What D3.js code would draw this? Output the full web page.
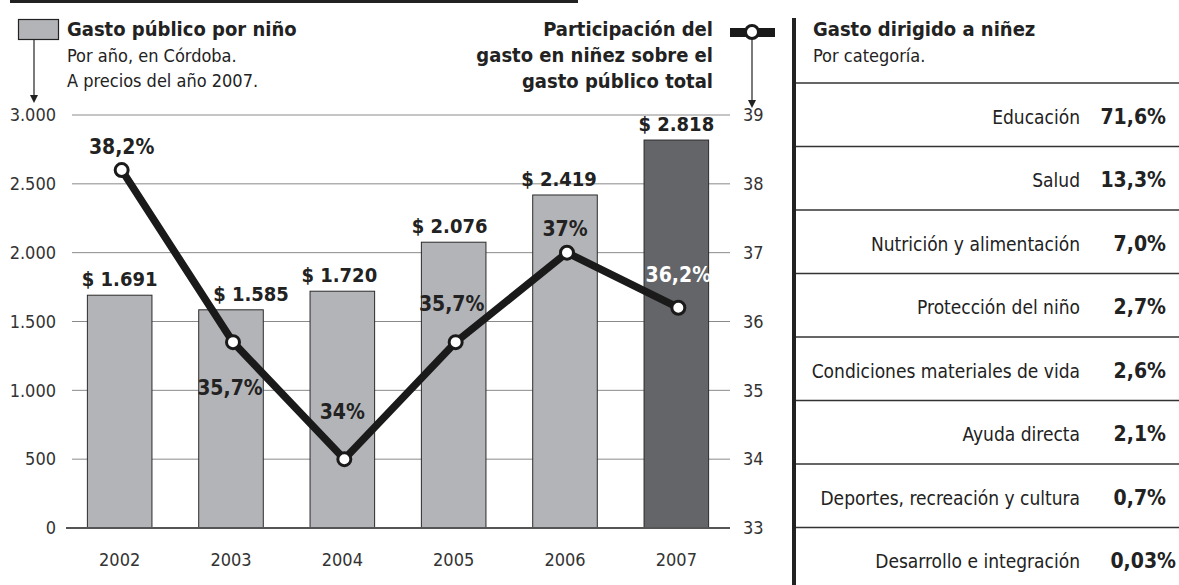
<!DOCTYPE html>
<html>
<head>
<meta charset="utf-8">
<script src="https://d3js.org/d3.v7.min.js"></script>
<style>
  body { margin: 0; background: #fff; }
  svg, svg text { font-family: "DejaVu Sans Condensed", "Liberation Sans Narrow", sans-serif; font-stretch: condensed; }
</style>
</head>
<body>
<script>
  const years = ['2002', '2003', '2004', '2005', '2006', '2007']
  const gasto = [1691, 1585, 1720, 2076, 2419, 2818]
  const participacion = [38.2, 35.7, 34, 35.7, 37, 36.2]
  const partLabels = ['38,2%', '35,7%', '34%', '35,7%', '37%', '36,2%']
  const leftTicks = [0, 500, 1000, 1500, 2000, 2500, 3000]
  const rightTicks = [33, 34, 35, 36, 37, 38, 39]
  const categorias = ['Educación', 'Salud', 'Nutrición y alimentación', 'Protección del niño',
    'Condiciones materiales de vida', 'Ayuda directa', 'Deportes, recreación y cultura', 'Desarrollo e integración']
  const catValores = ['71,6%', '13,3%', '7,0%', '2,7%', '2,6%', '2,1%', '0,7%', '0,03%']

  // label nudges (px)
  const barDx = [0, 20, -3, -4, -6, 0]
  const pctDx = [0, -3, -2, -4, -2, 0]
  const pctDy = [-16, 53, -40, -31, -17, -26]

  const width = 1179
  const height = 585
  const ink = '#222'
  const svg = d3.select('body').append('svg').attr('width', width).attr('height', height)

  const es = d3.formatLocale({ decimal: ',', thousands: '.', grouping: [3], currency: ['$ ', ''] })
  const fmtNum = es.format(',')

  const x = d3.scaleBand().domain(years).range([64, 732]).paddingInner(0.42).paddingOuter(0.21)
  const y = d3.scaleLinear().domain([0, 3000]).range([528, 115])
  const y2 = d3.scaleLinear().domain([33, 39]).range([528, 115])

  // top rule
  svg.append('rect').attr('x', 10).attr('y', 0).attr('width', 568).attr('height', 3).attr('fill', ink)

  // gridlines
  svg.append('g').selectAll('line').data(leftTicks.slice(1)).join('line')
    .attr('x1', 72).attr('x2', 730)
    .attr('y1', d => y(d)).attr('y2', d => y(d))
    .attr('stroke', '#8a8a8a').attr('stroke-width', 1)

  const styleAxis = g => {
    g.attr('font-family', null).attr('font-size', null)
    g.select('.domain').remove()
    g.selectAll('text').attr('font-size', 18).attr('fill', '#333')
  }

  // left axis
  svg.append('g').attr('transform', 'translate(62,0)')
    .call(d3.axisLeft(y).tickValues(leftTicks).tickSize(0).tickPadding(6).tickFormat(fmtNum))
    .call(styleAxis)

  // right axis
  svg.append('g').attr('transform', 'translate(737,0)')
    .call(d3.axisRight(y2).tickValues(rightTicks).tickSize(0).tickPadding(6).tickFormat(d3.format('d')))
    .call(styleAxis)

  // bars
  svg.append('g').selectAll('rect').data(gasto).join('rect')
    .attr('x', (d, i) => x(years[i]))
    .attr('width', x.bandwidth())
    .attr('y', d => y(d))
    .attr('height', d => y(0) - y(d))
    .attr('fill', (d, i) => i === gasto.length - 1 ? '#646569' : '#b3b4b7')
    .attr('stroke', '#2a2a2a').attr('stroke-width', 1)

  // baseline
  svg.append('line').attr('x1', 66).attr('x2', 730).attr('y1', y(0)).attr('y2', y(0))
    .attr('stroke', '#555').attr('stroke-width', 2)

  // bar labels
  svg.append('g').selectAll('text').data(gasto).join('text')
    .attr('x', (d, i) => x(years[i]) + x.bandwidth() / 2 + barDx[i])
    .attr('y', d => y(d) - 9)
    .attr('text-anchor', 'middle')
    .attr('font-size', 20).attr('font-weight', 'bold').attr('fill', ink)
    .text(d => '$ ' + fmtNum(d))

  // year labels
  svg.append('g').attr('transform', 'translate(0,' + y(0) + ')')
    .call(d3.axisBottom(x).tickSize(0).tickPadding(25))
    .call(styleAxis)

  // line
  const cx = (d, i) => x(years[i]) + x.bandwidth() / 2 + 2
  const line = d3.line().x(cx).y(d => y2(d))
  svg.append('path').attr('d', line(participacion))
    .attr('fill', 'none').attr('stroke', '#1a1a1a').attr('stroke-width', 7.5).attr('stroke-linejoin', 'miter')
  svg.append('g').selectAll('circle').data(participacion).join('circle')
    .attr('cx', cx).attr('cy', d => y2(d)).attr('r', 6.5)
    .attr('fill', '#fff').attr('stroke', '#1a1a1a').attr('stroke-width', 3)

  svg.append('g').selectAll('text').data(participacion).join('text')
    .attr('x', (d, i) => cx(d, i) + pctDx[i])
    .attr('y', (d, i) => y2(d) + pctDy[i])
    .attr('text-anchor', 'middle')
    .attr('font-size', 21).attr('font-weight', 'bold')
    .attr('fill', (d, i) => i === participacion.length - 1 ? '#fff' : ink)
    .text((d, i) => partLabels[i])

  // legends
  const arrow = (ax, y0, y1) => {
    svg.append('line').attr('x1', ax).attr('x2', ax).attr('y1', y0).attr('y2', y1 - 6)
      .attr('stroke', ink).attr('stroke-width', 1.2)
    svg.append('path').attr('d', `M${ax - 4},${y1 - 8} L${ax + 4},${y1 - 8} L${ax},${y1} Z`).attr('fill', ink)
  }
  svg.append('rect').attr('x', 18.5).attr('y', 19.5).attr('width', 40).attr('height', 20)
    .attr('fill', '#b3b4b7').attr('stroke', ink).attr('stroke-width', 1.2)
  arrow(34, 40, 103)
  const lg1 = svg.append('g').attr('fill', ink)
  lg1.append('text').attr('x', 67).attr('y', 36).attr('font-size', 20).attr('font-weight', 'bold').text('Gasto público por niño')
  lg1.append('text').attr('x', 67).attr('y', 62).attr('font-size', 18).text('Por año, en Córdoba.')
  lg1.append('text').attr('x', 67).attr('y', 87).attr('font-size', 18).text('A precios del año 2007.')

  svg.append('rect').attr('x', 730).attr('y', 28).attr('width', 45).attr('height', 9).attr('fill', '#1a1a1a')
  svg.append('circle').attr('cx', 752).attr('cy', 32).attr('r', 6.5).attr('fill', '#fff')
    .attr('stroke', '#1a1a1a').attr('stroke-width', 3)
  arrow(752, 39, 108)
  const lg2 = svg.append('g').attr('fill', ink).attr('text-anchor', 'end')
    .attr('font-size', 20).attr('font-weight', 'bold')
  ;['Participación del', 'gasto en niñez sobre el', 'gasto público total'].forEach((t, i) => {
    lg2.append('text').attr('x', 713).attr('y', 36 + i * 26).text(t)
  })

  // right panel
  svg.append('rect').attr('x', 792).attr('y', 18).attr('width', 4).attr('height', height - 18).attr('fill', ink)
  svg.append('text').attr('x', 813).attr('y', 36).attr('font-size', 20).attr('font-weight', 'bold')
    .attr('fill', ink).text('Gasto dirigido a niñez')
  svg.append('text').attr('x', 813).attr('y', 62).attr('font-size', 18).attr('fill', ink).text('Por categoría.')

  const rows = d3.scaleBand().domain(categorias).range([83, 83 + 63.5 * 8])
  svg.append('g').selectAll('line').data(categorias).join('line')
    .attr('x1', 796).attr('x2', 1179)
    .attr('y1', d => rows(d)).attr('y2', d => rows(d))
    .attr('stroke', '#333').attr('stroke-width', 1.5)
  svg.append('g').selectAll('text').data(categorias).join('text')
    .attr('x', 1080).attr('y', d => rows(d) + rows.bandwidth() / 2 + 9)
    .attr('text-anchor', 'end').attr('font-size', 19).attr('fill', ink)
    .text(d => d)
  svg.append('g').selectAll('text').data(catValores).join('text')
    .attr('x', (d, i) => i === catValores.length - 1 ? 1176 : 1166)
    .attr('y', (d, i) => rows(categorias[i]) + rows.bandwidth() / 2 + 9)
    .attr('text-anchor', 'end').attr('font-size', 21).attr('font-weight', 'bold').attr('fill', ink)
    .text(d => d)
</script>
</body>
</html>
